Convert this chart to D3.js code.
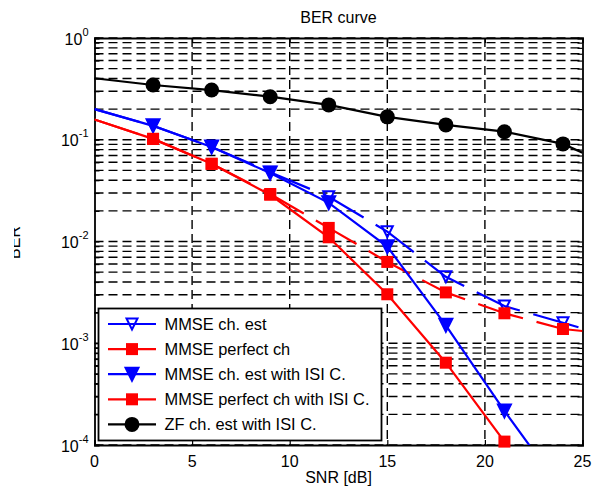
<!DOCTYPE html>
<html>
<head>
<meta charset="utf-8">
<script src="https://cdn.jsdelivr.net/npm/d3@7"></script>
<style>
  body { margin: 0; background: #fff; }
  text { font-family: "Liberation Sans", Arial, sans-serif; }
</style>
</head>
<body>
<div class="chart"></div>
<script>
// data
var snr = [0, 3, 6, 9, 12, 15, 18, 21, 24, 25];
var mmseEst = [0.2, 0.137, 0.085, 0.048, 0.0275, 0.0125, 0.0045, 0.00232, 0.00159, 0.0014];
var mmsePerfect = [0.158, 0.102, 0.058, 0.0293, 0.0136, 0.0063, 0.00316, 0.00197, 0.00138, 0.00132];
var mmseEstIsi = [0.2, 0.137, 0.085, 0.047, 0.024, 0.0089, 0.0015, 0.000216, 0.000035, 0.00002];
var mmsePerfectIsi = [0.158, 0.102, 0.058, 0.0288, 0.011, 0.00303, 0.000644, 0.000108, 0.000012, 0.000007];
var zfEstIsi = [0.402, 0.345, 0.308, 0.265, 0.22, 0.168, 0.14, 0.12, 0.091, 0.0746];
var seriesNames = ["MMSE ch. est", "MMSE perfect ch", "MMSE ch. est with ISI C.", "MMSE perfect ch with ISI C.", "ZF ch. est with ISI C."];
var xTicks = [0, 5, 10, 15, 20, 25];
var yDecades = [0, -1, -2, -3, -4];

var svgWidth = 600;
var svgHeight = 491;
var margin = { top: 38, right: 17.5, bottom: 46, left: 94.5 };
var width = svgWidth - margin.left - margin.right;
var height = svgHeight - margin.top - margin.bottom;

var svg = d3.select(".chart")
  .append("svg")
  .attr("width", svgWidth)
  .attr("height", svgHeight);

var chartGroup = svg.append("g").attr("transform", `translate(${margin.left}, ${margin.top})`);

var xScale = d3.scaleLinear().domain([0, 25]).range([0, width]);
var yScale = d3.scaleLog().domain([1e-4, 1]).range([height, 0]);

svg.append("defs").append("clipPath").attr("id", "plotclip")
  .append("rect").attr("width", width).attr("height", height);
svg.select("defs").append("clipPath").attr("id", "ylabclip")
  .append("rect").attr("x", 14).attr("y", 0).attr("width", 40).attr("height", svgHeight);

// grid: major x, major + minor y
var yGrid = [];
yDecades.forEach(function(d) {
  if (d < 0) {
    for (var m = 1; m < 10; m++) yGrid.push(m * Math.pow(10, d));
  }
});
yGrid.push(1);

chartGroup.selectAll(".ygrid").data(yGrid).enter().append("line")
  .attr("x1", 0).attr("x2", width)
  .attr("y1", d => yScale(d)).attr("y2", d => yScale(d))
  .attr("stroke", "#000").attr("stroke-width", 1.4)
  .attr("stroke-dasharray", "9,5");

chartGroup.selectAll(".xgrid").data(xTicks.slice(1, -1)).enter().append("line")
  .attr("x1", d => xScale(d)).attr("x2", d => xScale(d))
  .attr("y1", 0).attr("y2", height)
  .attr("stroke", "#000").attr("stroke-width", 1.4)
  .attr("stroke-dasharray", "9,5");

// axes (ticks inward, labels added by hand for the 10^n format)
var xAxis = d3.axisBottom(xScale).tickValues(xTicks).tickSize(-5).tickFormat("");
var xAxisTop = d3.axisTop(xScale).tickValues(xTicks).tickSize(-5).tickFormat("");
var yAxis = d3.axisLeft(yScale).tickValues(yGrid).tickSize(-5).tickFormat("");
var yAxisRight = d3.axisRight(yScale).tickValues(yGrid).tickSize(-5).tickFormat("");

chartGroup.append("g").attr("transform", `translate(0, ${height})`).call(xAxis);
chartGroup.append("g").call(xAxisTop);
chartGroup.append("g").call(yAxis);
chartGroup.append("g").attr("transform", `translate(${width}, 0)`).call(yAxisRight);
chartGroup.selectAll(".domain").attr("stroke", "#000").attr("stroke-width", 1.8);
chartGroup.selectAll(".tick line").attr("stroke", "#000").attr("stroke-width", 1.2);

chartGroup.selectAll(".xlab").data(xTicks).enter().append("text")
  .attr("x", d => xScale(d)).attr("y", height + 21.5)
  .attr("text-anchor", "middle").attr("font-size", 16)
  .text(d => d);

var yLabels = chartGroup.selectAll(".ylab").data(yDecades).enter().append("text")
  .attr("x", -6).attr("y", d => yScale(Math.pow(10, d)) + 6.5)
  .attr("text-anchor", "end").attr("font-size", 16);
yLabels.append("tspan").text("10");
yLabels.append("tspan").attr("dy", -9).attr("font-size", 11).text(d => d === 0 ? "0" : "-" + (-d));

// series
var series = [
  { values: mmseEst, color: "#0000ff", dash: "47,14", marker: "triOpen" },
  { values: mmsePerfect, color: "#ff0000", dash: "47,14", marker: "square" },
  { values: mmseEstIsi, color: "#0000ff", dash: null, marker: "tri" },
  { values: mmsePerfectIsi, color: "#ff0000", dash: null, marker: "square" },
  { values: zfEstIsi, color: "#000000", dash: null, marker: "circle" }
];

var line = d3.line()
  .x(d => xScale(d[0]))
  .y(d => yScale(d[1]));

function drawMarker(g, type, color, x, y) {
  if (type === "circle") {
    g.append("circle").attr("cx", x).attr("cy", y).attr("r", 7.5).attr("fill", color);
  } else if (type === "square") {
    g.append("rect").attr("x", x - 6).attr("y", y - 6).attr("width", 12).attr("height", 12).attr("fill", color);
  } else {
    var open = type === "triOpen";
    var s = open ? 5.5 : 6.5;
    g.append("path")
      .attr("d", `M${x - s},${y - s} L${x + s},${y - s} L${x},${y + s} Z`)
      .attr("fill", open ? "none" : color)
      .attr("stroke", color).attr("stroke-width", 2);
  }
}

var lineGroup = chartGroup.append("g").attr("clip-path", "url(#plotclip)");
var markerGroup = chartGroup.append("g");

series.forEach(function(s) {
  var pts = snr.map((x, i) => [x, s.values[i]]);
  lineGroup.append("path")
    .attr("d", line(pts))
    .attr("fill", "none")
    .attr("stroke", s.color)
    .attr("stroke-width", 2.2)
    .attr("stroke-dasharray", s.dash);
  pts.forEach(function(p) {
    if (p[0] > 0 && p[0] % 3 === 0 && p[1] >= 1e-4) {
      drawMarker(markerGroup, s.marker, s.color, xScale(p[0]), yScale(p[1]));
    }
  });
});

// legend
var legend = svg.append("g");
legend.append("rect")
  .attr("x", 98.5).attr("y", 308.5).attr("width", 283).attr("height", 132)
  .attr("fill", "#fff").attr("stroke", "#000").attr("stroke-width", 1.8);

seriesNames.forEach(function(name, i) {
  var cy = 324 + i * 25.1;
  var s = series[i];
  legend.append("line")
    .attr("x1", 108).attr("x2", 156).attr("y1", cy).attr("y2", cy)
    .attr("stroke", s.color).attr("stroke-width", 2.2);
  drawMarker(legend, s.marker, s.color, 132, cy);
  legend.append("text")
    .attr("x", 164.5).attr("y", cy + 5.8)
    .attr("font-size", 16.4)
    .text(name);
});

// titles
svg.append("text")
  .attr("x", margin.left + width / 2).attr("y", 23)
  .attr("text-anchor", "middle").attr("font-size", 16)
  .text("BER curve");

svg.append("text")
  .attr("transform", `translate(${margin.left + width / 2}, 482.5)`)
  .attr("text-anchor", "middle").attr("font-size", 16)
  .text("SNR [dB]");

svg.append("g").attr("clip-path", "url(#ylabclip)")
  .append("text")
  .attr("transform", "translate(19.5, 242.5) rotate(-90)")
  .attr("text-anchor", "middle").attr("font-size", 16)
  .text("BER");
</script>
</body>
</html>
